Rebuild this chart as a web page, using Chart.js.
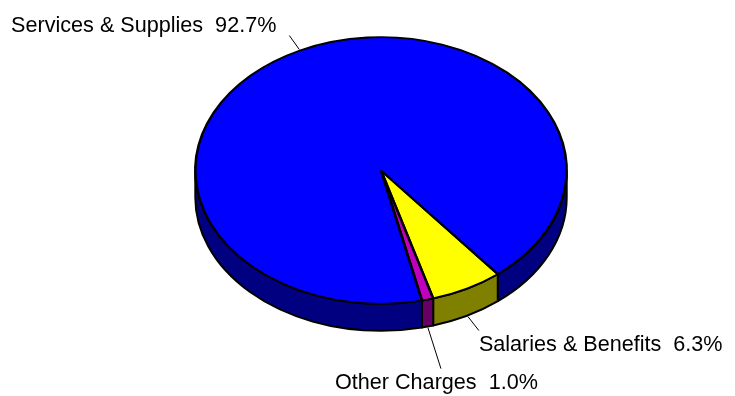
<!DOCTYPE html>
<html>
<head>
<meta charset="utf-8">
<script src="https://cdn.jsdelivr.net/npm/chart.js@4.4.1/dist/chart.umd.min.js"></script>
<style>
  html, body { margin: 0; padding: 0; background: #fff; }
  #pie { display: block; }
</style>
</head>
<body>
<canvas id="pie" width="735" height="396"></canvas>
<script>
const categories = ["Salaries & Benefits", "Other Charges", "Services & Supplies"];
const shares = [6.3, 1.0, 92.7];
const topColors = ["#FFFF00", "#BF00BF", "#0000FF"];
const sideColors = ["#808000", "#660066", "#000080"];

// look of the tilted pie
const TILT = 0.718;    // vertical squash of the face
const DEPTH = 27;      // thickness of the disc
const FACE_Y = 170.5;  // centre of the top face on the canvas
const FONT = '21.6px "Liberation Sans", Arial, sans-serif';

// leader line (dx, dy) from the rim, then where the text sits from the line end
const leaders = [
  { dx: 11, dy: 14, align: "left", tx: 0, ty: 20 },
  { dx: 13, dy: 41, align: "center", tx: -4.5, ty: 20 },
  { dx: -10, dy: -14, align: "right", tx: -13, ty: -3.3 }
];

const pie3d = {
  id: "pie3d",
  beforeDatasetsDraw(chart) {
    const ctx = chart.ctx;
    const arcs = chart.getDatasetMeta(0).data;
    let cx = 0, cy = 0;
    // the visible wall of each slice (front half only)
    arcs.forEach((arc, i) => {
      const p = arc.getProps(["x", "y", "startAngle", "endAngle", "outerRadius"], true);
      cx = p.x; cy = p.y;
      const r = p.outerRadius;
      for (let k = 0; k < 2; k++) {
        const a = Math.max(p.startAngle, 2 * Math.PI * k);
        const b = Math.min(p.endAngle, Math.PI + 2 * Math.PI * k);
        if (b <= a) continue;
        ctx.beginPath();
        ctx.ellipse(p.x, FACE_Y, r, r * TILT, 0, a, b);
        ctx.ellipse(p.x, FACE_Y + DEPTH, r, r * TILT, 0, b, a, true);
        ctx.closePath();
        ctx.fillStyle = sideColors[i];
        ctx.fill();
        ctx.lineWidth = 2;
        ctx.strokeStyle = "#000";
        ctx.lineJoin = "round";
        ctx.stroke();
      }
    });
    // squash the face that the library draws next
    ctx.save();
    ctx.translate(cx, FACE_Y);
    ctx.scale(1, TILT);
    ctx.translate(-cx, -cy);
  },
  afterDatasetsDraw(chart) {
    const ctx = chart.ctx;
    ctx.restore();
    const arcs = chart.getDatasetMeta(0).data;
    ctx.save();
    ctx.font = FONT;
    ctx.fillStyle = "#000";
    ctx.strokeStyle = "#000";
    ctx.lineWidth = 1;
    arcs.forEach((arc, i) => {
      const p = arc.getProps(["x", "startAngle", "endAngle", "outerRadius"], true);
      const mid = (p.startAngle + p.endAngle) / 2;
      const r = p.outerRadius + 1.5;
      const sx = p.x + r * Math.cos(mid);
      let sy = FACE_Y + r * TILT * Math.sin(mid);
      if (Math.sin(mid) > 0) sy += DEPTH;
      const L = leaders[i];
      const ex = sx + L.dx, ey = sy + L.dy;
      ctx.beginPath();
      ctx.moveTo(sx, sy);
      ctx.lineTo(ex, ey);
      ctx.stroke();
      ctx.textAlign = L.align;
      ctx.textBaseline = "alphabetic";
      ctx.fillText(categories[i] + "  " + shares[i].toFixed(1) + "%", ex + L.tx, ey + L.ty);
    });
    ctx.restore();
  }
};

new Chart(document.getElementById("pie"), {
  type: "pie",
  data: {
    labels: categories,
    datasets: [{
      data: shares,
      backgroundColor: topColors,
      borderColor: "#000",
      borderWidth: 2.6,
      hoverOffset: 0
    }]
  },
  options: {
    responsive: false,
    animation: false,
    rotation: 141,
    layout: { padding: { left: 194, right: 167, top: 0, bottom: 22 } },
    plugins: {
      legend: { display: false },
      tooltip: { enabled: false }
    },
    events: []
  },
  plugins: [pie3d]
});
</script>
</body>
</html>
